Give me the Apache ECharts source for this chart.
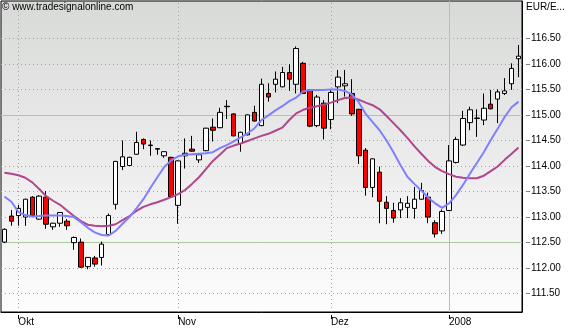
<!DOCTYPE html>
<html><head><meta charset="utf-8">
<script src="https://cdn.jsdelivr.net/npm/echarts@6/dist/echarts.min.js"></script>
<style>html,body{margin:0;padding:0;background:#fff}#c{width:570px;height:330px}</style>
</head><body><div id="c"></div><script>
const dates = ['27.09.07','28.09.07',
 '01.10.07','02.10.07','03.10.07','04.10.07','05.10.07','08.10.07','09.10.07','10.10.07','11.10.07','12.10.07','15.10.07','16.10.07','17.10.07','18.10.07','19.10.07','22.10.07','23.10.07','24.10.07','25.10.07','26.10.07','29.10.07','30.10.07','31.10.07',
 '01.11.07','02.11.07','05.11.07','06.11.07','07.11.07','08.11.07','09.11.07','12.11.07','13.11.07','14.11.07','15.11.07','16.11.07','19.11.07','20.11.07','21.11.07','22.11.07','23.11.07','26.11.07','27.11.07','28.11.07','29.11.07','30.11.07',
 '03.12.07','04.12.07','05.12.07','06.12.07','07.12.07','10.12.07','11.12.07','12.12.07','13.12.07','14.12.07','17.12.07','18.12.07','19.12.07','20.12.07','21.12.07','27.12.07','28.12.07',
 '02.01.08','03.01.08','04.01.08','07.01.08','08.01.08','09.01.08','10.01.08','11.01.08','14.01.08','15.01.08','16.01.08'];
const open = [112.51,113.02,113.03,113.00,113.39,112.96,113.39,112.81,112.88,112.92,
 112.50,112.51,112.03,112.20,112.21,112.66,113.25,113.99,114.01,114.23,
 114.52,114.41,114.34,114.20,114.17,113.23,114.20,114.33,114.12,114.30,
 114.76,114.75,115.17,115.02,114.44,114.61,115.05,114.79,115.42,115.60,
 115.55,115.83,115.60,116.01,115.49,114.79,115.23,114.91,115.55,115.57,
 115.42,115.11,114.31,113.58,113.88,113.29,113.13,113.14,113.19,113.17,
 113.35,113.39,112.89,112.73,113.13,114.07,114.41,114.85,114.93,114.90,
 115.21,115.31,115.42,115.61,116.10];
const close = [112.76,112.92,113.17,113.35,113.03,113.41,112.86,112.88,113.09,112.83,
 112.60,112.02,112.21,112.08,112.47,113.03,114.09,114.18,114.17,114.46,
 114.43,114.40,114.33,114.28,113.40,114.10,114.25,114.29,114.22,114.74,
 114.70,115.05,115.16,114.59,114.66,115.00,114.88,115.60,115.35,115.70,
 115.83,115.70,116.30,115.42,114.78,115.35,114.74,115.44,115.74,115.61,
 115.02,114.20,113.58,114.14,113.31,113.17,112.98,113.28,113.27,113.35,
 113.52,113.00,112.67,113.11,114.10,114.52,114.93,115.10,114.94,115.13,
 115.12,115.45,115.47,115.91,116.15];
const low = [112.49,112.83,112.83,112.83,113.00,112.95,112.77,112.75,112.81,112.75,
 112.36,112.01,111.98,112.03,112.05,112.65,113.15,113.92,114.00,114.22,
 114.33,114.20,114.22,114.16,113.39,112.87,113.95,114.28,114.06,114.29,
 114.48,114.74,114.92,114.58,114.28,114.60,114.87,114.78,115.26,115.44,
 115.54,115.47,115.42,115.41,114.76,114.76,114.52,114.72,115.23,115.36,
 114.98,114.04,113.42,113.39,112.88,112.86,112.89,112.98,112.98,112.97,
 113.34,112.88,112.60,112.67,113.12,114.05,114.39,114.70,114.57,114.80,
 115.11,114.84,115.39,115.49,115.74];
const high = [112.78,113.14,113.24,113.36,113.41,113.43,113.51,112.89,113.10,112.96,
 112.62,112.58,112.22,112.24,112.52,113.07,114.10,114.50,114.18,114.67,
 114.54,114.50,114.35,114.29,114.18,114.11,114.54,114.59,114.23,114.75,
 114.93,115.14,115.29,115.03,114.67,115.01,115.18,115.71,115.62,115.85,
 115.94,115.99,116.34,116.04,115.50,115.39,115.29,115.49,115.88,115.88,
 115.70,115.12,114.35,114.15,113.99,113.41,113.28,113.37,113.41,113.59,
 113.67,113.48,112.94,113.15,114.41,114.57,115.08,115.16,115.11,115.42,
 115.49,115.50,115.72,116.01,116.37];
const maFast = [113.40,113.30,113.10,113.04,113.01,113.02,113.03,113.03,113.03,113.02,
 113.00,112.90,112.79,112.70,112.65,112.64,112.73,112.87,113.00,113.17,
 113.35,113.57,113.78,113.98,114.11,114.19,114.22,114.23,114.24,114.25,
 114.27,114.35,114.41,114.48,114.56,114.64,114.74,114.90,114.99,115.09,
 115.17,115.27,115.34,115.46,115.49,115.49,115.49,115.50,115.50,115.47,
 115.40,115.25,115.02,114.86,114.70,114.50,114.27,114.02,113.79,113.65,
 113.52,113.38,113.27,113.18,113.27,113.43,113.63,113.85,114.06,114.27,
 114.51,114.73,114.96,115.15,115.26];
const maSlow = [113.87,113.85,113.82,113.77,113.68,113.55,113.41,113.32,113.24,113.13,
 113.02,112.92,112.85,112.83,112.82,112.83,112.86,112.94,113.02,113.12,
 113.20,113.25,113.29,113.34,113.39,113.45,113.53,113.65,113.78,113.94,
 114.10,114.22,114.35,114.40,114.44,114.49,114.54,114.59,114.63,114.69,
 114.75,114.90,115.03,115.10,115.14,115.17,115.20,115.24,115.29,115.33,
 115.34,115.30,115.24,115.19,115.11,114.98,114.84,114.70,114.55,114.39,
 114.24,114.10,113.98,113.90,113.84,113.79,113.77,113.76,113.76,113.81,
 113.90,113.99,114.12,114.24,114.36];
const yTicks = [111.5,112.0,112.5,113.0,113.5,114.0,114.5,115.0,115.5,116.0,116.5];
const yMajor = [112.5,115.0];
const monthLabels = {'01.10.07':'Okt','01.11.07':'Nov','03.12.07':'Dez','02.01.08':'2008'};
const majorDates = ['02.01.08'];
const YMIN = 111.142, YMAX = 117.23;

const F = 'Liberation Sans';
const chart = echarts.init(document.getElementById('c'), null, {renderer:'canvas'});
const candleData = open.map((o,i)=>[o, close[i], low[i], high[i]]);
const monthIdx = Object.keys(monthLabels).map(d=>dates.indexOf(d));
const dotted = {type:[1,3], color:'#98aa90', width:1};
const solid = {type:'solid', color:'#abc8a2', width:1};
const markData = [];
yTicks.forEach(v=>{ if(!yMajor.includes(v)) markData.push({yAxis:v, lineStyle:dotted}); });
Object.keys(monthLabels).forEach(d=>{ if(!majorDates.includes(d)) markData.push({xAxis:d, lineStyle:dotted}); });
yMajor.forEach(v=>markData.push({yAxis:v, lineStyle:solid}));
majorDates.forEach(d=>markData.push({xAxis:d, lineStyle:solid}));

chart.setOption({
  animation:false,
  textStyle:{fontFamily:F},
  title:{text:'\u00a9 www.tradesignalonline.com', left:2, top:2, padding:0,
    textStyle:{fontSize:10, fontWeight:'normal', color:'#000', fontFamily:F}},
  graphic:[{type:'text', left:526, top:2, style:{text:'EUR/E...', fill:'#000', font:'10px "Liberation Sans"'}}],
  grid:{left:1, top:1, width:521, height:311, show:true, borderColor:'#000', borderWidth:1,
    backgroundColor:{type:'linear', x:0, y:0, x2:0, y2:1, colorStops:[{offset:0,color:'#d8dad8'},{offset:1,color:'#fdfdfd'}]}},
  xAxis:[
    {type:'category', data:dates, boundaryGap:true, axisLine:{show:true, lineStyle:{color:'#000'}},
      axisTick:{show:false}, axisLabel:{show:false}, splitLine:{show:false}},
    {type:'category', data:dates, boundaryGap:true, position:'bottom', offset:3, axisLine:{show:false},
      axisTick:{show:true, alignWithLabel:true, length:4, interval:(i)=>monthIdx.includes(i), lineStyle:{color:'#000'}},
      axisLabel:{show:true, interval:(i)=>monthIdx.includes(i), formatter:(v)=>monthLabels[v]||'', align:'left', margin:2, fontSize:10, color:'#000', fontFamily:F},
      splitLine:{show:false}}
  ],
  yAxis:[
    {type:'value', position:'right', min:YMIN, max:YMAX, axisLine:{show:true, lineStyle:{color:'#000'}},
      axisTick:{show:false}, axisLabel:{show:false}, splitLine:{show:false}},
    {type:'value', position:'right', min:YMIN, max:YMAX, offset:4, axisLine:{show:false},
      axisTick:{show:true, length:4, customValues:yTicks, lineStyle:{color:'#808080'}},
      axisLabel:{show:true, customValues:yTicks, formatter:(v)=>v.toFixed(2), margin:5, fontSize:10, color:'#000', fontFamily:F},
      splitLine:{show:false}}
  ],
  series:[
    {type:'candlestick', xAxisIndex:0, yAxisIndex:0, data:candleData, barWidth:5, z:2,
      itemStyle:{color:'#ffffff', color0:'#ff0000', borderColor:'#000', borderColor0:'#000', borderWidth:1},
      markLine:{silent:true, z:1, symbol:'none', label:{show:false}, animation:false, data:markData}},
    {type:'line', xAxisIndex:0, yAxisIndex:0, data:maSlow, z:3, symbol:'none', smooth:false,
      lineStyle:{color:'#b0468e', width:2}},
    {type:'line', xAxisIndex:0, yAxisIndex:0, data:maFast, z:4, symbol:'none', smooth:false,
      lineStyle:{color:'#8080ff', width:2}}
  ]
});
</script></body></html>
